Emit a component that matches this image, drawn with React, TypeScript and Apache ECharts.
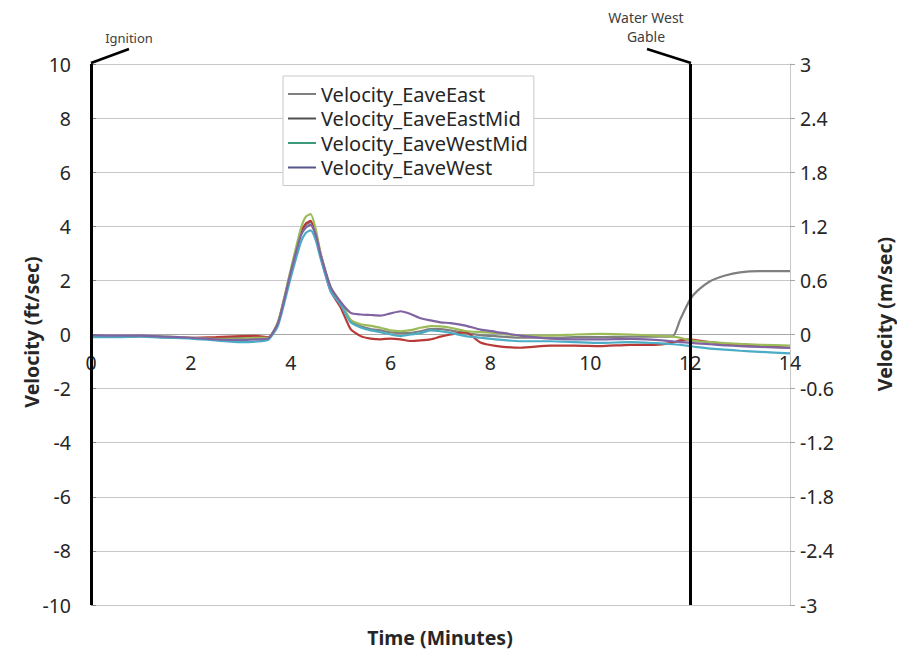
import React, { useEffect, useRef } from "react";
import * as echarts from "echarts";

const timeMin = [0, 0.5, 1, 1.5, 2, 2.5, 3, 3.3, 3.55, 3.75, 4.0, 4.2, 4.3, 4.4, 4.5, 4.6, 4.8, 5.0, 5.2, 5.4, 5.6, 5.8, 6.0, 6.2, 6.4, 6.6, 6.8, 7.0, 7.2, 7.5, 7.8, 8.1, 8.6, 9.2, 9.7, 10.2, 10.8, 11.3, 11.65, 11.8, 12.0, 12.15, 12.4, 12.7, 13.0, 13.4, 14.0];

const eaveEast = [-0.06, -0.06, -0.05, -0.1, -0.13, -0.14, -0.12, -0.1, -0.12, 0.45, 2.3, 3.7, 4.05, 4.15, 3.75, 2.95, 1.7, 1.1, 0.5, 0.3, 0.2, 0.15, 0.08, 0.05, 0.06, 0.12, 0.2, 0.2, 0.15, 0.05, -0.02, -0.06, -0.12, -0.12, -0.1, -0.1, -0.08, -0.08, -0.07, 0.55, 1.3, 1.62, 1.97, 2.18, 2.3, 2.34, 2.34];
const eaveEastMid = [-0.08, -0.08, -0.06, -0.1, -0.12, -0.1, -0.06, -0.05, -0.1, 0.45, 2.3, 3.75, 4.1, 4.2, 3.7, 2.9, 1.6, 1.0, 0.2, -0.06, -0.15, -0.18, -0.15, -0.18, -0.24, -0.22, -0.18, -0.08, 0.0, 0.09, -0.3, -0.42, -0.49, -0.41, -0.41, -0.43, -0.38, -0.38, -0.3, -0.22, -0.18, -0.22, -0.28, -0.34, -0.38, -0.43, -0.49];
const eaveWestMid = [-0.05, -0.06, -0.05, -0.08, -0.12, -0.16, -0.15, -0.12, -0.12, 0.5, 2.4, 3.9, 4.35, 4.45, 3.9, 3.0, 1.75, 1.2, 0.55, 0.38, 0.32, 0.25, 0.15, 0.12, 0.16, 0.25, 0.31, 0.3, 0.25, 0.13, 0.09, 0.06, -0.04, -0.04, 0.0, 0.02, 0.0, -0.04, -0.08, -0.12, -0.22, -0.25, -0.28, -0.32, -0.35, -0.38, -0.41];
const eaveWest = [-0.02, -0.04, -0.04, -0.08, -0.12, -0.18, -0.2, -0.18, -0.15, 0.45, 2.3, 3.65, 3.95, 4.05, 3.7, 2.95, 1.75, 1.2, 0.8, 0.74, 0.72, 0.7, 0.78, 0.86, 0.76, 0.6, 0.52, 0.45, 0.42, 0.33, 0.18, 0.1, -0.04, -0.15, -0.18, -0.18, -0.16, -0.2, -0.25, -0.28, -0.3, -0.33, -0.36, -0.4, -0.43, -0.46, -0.5];
const series5 = [-0.1, -0.1, -0.08, -0.12, -0.15, -0.22, -0.28, -0.26, -0.2, 0.35, 2.1, 3.4, 3.75, 3.85, 3.5, 2.8, 1.6, 1.1, 0.45, 0.26, 0.15, 0.09, 0.0, -0.06, 0.0, 0.05, 0.15, 0.12, 0.06, -0.06, -0.12, -0.18, -0.25, -0.25, -0.28, -0.31, -0.28, -0.32, -0.36, -0.38, -0.43, -0.47, -0.52, -0.56, -0.6, -0.64, -0.7];

const seriesNames = ["Velocity_EaveEast", "Velocity_EaveEastMid", "Velocity_EaveWestMid", "Velocity_EaveWest", "Velocity_Series5"];
const seriesColors = ["#7f7f7f", "#b83a36", "#9bbb59", "#8064a2", "#4bacc6"];
const legendColors = ["#7f7f7f", "#505050", "#3d9a78", "#55558a"];
const eventTimes = [0, 12];

const FONT = "'Noto Sans', 'DejaVu Sans', sans-serif";

export default function App() {
  const ref = useRef<HTMLDivElement>(null);
  useEffect(() => {
    if (!ref.current) return;
    const chart = echarts.init(ref.current, null, { renderer: "svg" });
    const gridTop = 64;
    const gridBottom = 49;
    const gridHeight = 654 - gridTop - gridBottom;
    // drawing order: gray, red, green, cyan, purple
    const order = [0, 1, 2, 4, 3];
    const allValues = [eaveEast, eaveEastMid, eaveWestMid, eaveWest, series5];
    const lineSeries: any[] = order.map((k) => ({
      type: "line",
      name: seriesNames[k],
      data: timeMin.map((t, j) => [t, allValues[k][j]]),
      showSymbol: false,
      smooth: 0.2,
      lineStyle: { width: 2.2, color: seriesColors[k] },
      itemStyle: { color: seriesColors[k] },
      z: 3,
    }));
    lineSeries[0].markLine = {
      silent: true,
      symbol: "none",
      label: { show: false },
      lineStyle: { color: "#000", width: 3, type: "solid" },
      data: eventTimes.map((t) => ({ xAxis: t })),
      z: 5,
    };
    chart.setOption({
      animation: false,
      textStyle: { fontFamily: FONT },
      grid: { left: 91, right: 107, top: gridTop, bottom: gridBottom, containLabel: false },
      legend: {
        orient: "vertical",
        left: 283,
        top: 76,
        padding: [7, 6, 7, 5],
        backgroundColor: "#fff",
        borderColor: "#c8c8c8",
        borderWidth: 1,
        icon: "rect",
        itemWidth: 28,
        itemHeight: 2,
        itemGap: 2.5,
        selectedMode: false,
        textStyle: { fontSize: 20, color: "#262626", fontFamily: FONT, lineHeight: 22 },
        data: seriesNames.slice(0, 4).map((n, i) => ({
          name: n,
          itemStyle: { color: legendColors[i] },
          lineStyle: { color: legendColors[i] },
        })),
      },
      xAxis: {
        type: "value",
        min: 0,
        max: 14,
        interval: 2,
        position: "bottom",
        offset: -gridHeight / 2,
        axisLine: { show: true, onZero: false, lineStyle: { color: "#a6a6a6", width: 1 } },
        axisTick: { show: false },
        axisLabel: { margin: 18, fontSize: 19.5, color: "#262626", fontFamily: FONT },
        splitLine: { show: false },
      },
      yAxis: [
        {
          type: "value",
          min: -10,
          max: 10,
          interval: 2,
          axisLine: { show: true, onZero: false, lineStyle: { color: "#404040" } },
          axisTick: { show: true, inside: true, length: 5, lineStyle: { color: "#808080" } },
          axisLabel: { margin: 20, fontSize: 19.5, color: "#262626", fontFamily: FONT },
          splitLine: { show: true, lineStyle: { color: "#c8c8c8", width: 1 } },
        },
        {
          type: "value",
          min: -3,
          max: 3,
          interval: 0.6,
          position: "right",
          axisLine: { show: true, onZero: false, lineStyle: { color: "#c8c8c8" } },
          axisTick: { show: true, length: 5, lineStyle: { color: "#a6a6a6" } },
          axisLabel: {
            margin: 10,
            fontSize: 19.5,
            color: "#262626",
            fontFamily: FONT,
            formatter: (v: number) => String(Math.round(v * 10) / 10),
          },
          splitLine: { show: false },
        },
      ],
      series: lineSeries,
      graphic: [
        { type: "line", shape: { x1: 91, y1: 63, x2: 129, y2: 49 }, style: { stroke: "#000", lineWidth: 2.5 }, z: 10 },
        { type: "text", x: 129, y: 38, style: { text: "Ignition", fontSize: 13, fill: "#404040", align: "center", verticalAlign: "middle", fontFamily: FONT }, z: 10 },
        { type: "line", shape: { x1: 691, y1: 63, x2: 647, y2: 49 }, style: { stroke: "#000", lineWidth: 2.5 }, z: 10 },
        { type: "text", x: 646, y: 26.5, style: { text: "Water West\nGable", fontSize: 14, lineHeight: 19, fill: "#404040", align: "center", verticalAlign: "middle", fontFamily: FONT }, z: 10 },
        { type: "text", x: 31, y: 332, rotation: Math.PI / 2, style: { text: "Velocity (ft/sec)", fontSize: 19.5, fontWeight: "bold", fill: "#262626", align: "center", verticalAlign: "middle", fontFamily: FONT } },
        { type: "text", x: 884, y: 314, rotation: Math.PI / 2, style: { text: "Velocity (m/sec)", fontSize: 19.5, fontWeight: "bold", fill: "#262626", align: "center", verticalAlign: "middle", fontFamily: FONT } },
        { type: "text", x: 440, y: 637, style: { text: "Time (Minutes)", fontSize: 19.5, fontWeight: "bold", fill: "#262626", align: "center", verticalAlign: "middle", fontFamily: FONT } },
      ],
    });
    return () => chart.dispose();
  }, []);
  return <div ref={ref} style={{ width: 897, height: 654, position: "absolute", left: 0, top: 0, background: "#fff" }} />;
}
